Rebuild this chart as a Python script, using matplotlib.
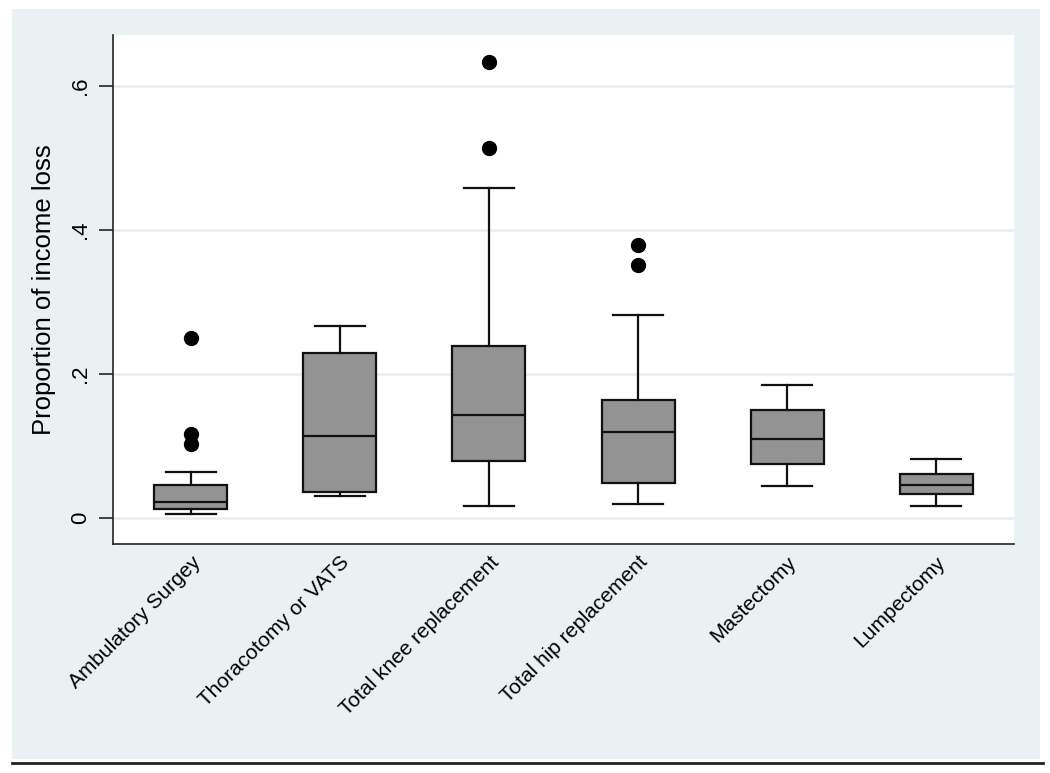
import matplotlib
matplotlib.use('Agg')
import matplotlib.pyplot as plt
from matplotlib.patches import Rectangle
from matplotlib.lines import Line2D

plt.rcParams['font.family'] = ['Liberation Sans', 'DejaVu Sans']

# procedures and box summary values
procedures = ['Ambulatory Surgey', 'Thoracotomy or VATS', 'Total knee replacement',
              'Total hip replacement', 'Mastectomy', 'Lumpectomy']
whislo = [0.0056, 0.030, 0.016, 0.019, 0.044, 0.016]
q1 = [0.0125, 0.035, 0.079, 0.048, 0.075, 0.033]
med = [0.022, 0.113, 0.143, 0.119, 0.110, 0.045]
q3 = [0.046, 0.229, 0.238, 0.164, 0.149, 0.061]
whishi = [0.063, 0.266, 0.458, 0.282, 0.184, 0.082]
outliers = [[0.250, 0.116, 0.103], [], [0.634, 0.514], [0.379, 0.351], [], []]

yticks = [0, 0.2, 0.4, 0.6]
ytick_labels = ['0', '.2', '.4', '.6']

bg = '#eaf1f3'
fig = plt.figure(figsize=(10.5, 7.73), dpi=100)
fig.patch.set_facecolor('white')

# stata style light background panel and the rule underneath
fig.patches.append(Rectangle((12/1050, 14/773), 1028/1050, 750/773,
                             transform=fig.transFigure, facecolor=bg,
                             edgecolor='none', zorder=-5))
fig.lines.append(Line2D([12/1050, 1043/1050], [10.3/773, 10.3/773],
                        transform=fig.transFigure, color='#222222', lw=2,
                        zorder=-4))

ax = fig.add_axes([113/1050, 229/773, 901/1050, 509/773])
ax.set_zorder(5)
ax.set_facecolor('white')

stats = []
for i in range(len(procedures)):
    stats.append({'whislo': whislo[i], 'q1': q1[i], 'med': med[i], 'q3': q3[i],
                  'whishi': whishi[i], 'fliers': outliers[i], 'label': procedures[i]})

positions = list(range(1, len(procedures) + 1))
ax.bxp(stats, positions=positions, widths=0.49, patch_artist=True,
       showfliers=True, capwidths=0.33,
       boxprops=dict(facecolor='#939393', edgecolor='#111111', linewidth=1.6),
       medianprops=dict(color='#111111', linewidth=1.6),
       whiskerprops=dict(color='#111111', linewidth=1.6),
       capprops=dict(color='#111111', linewidth=1.6),
       flierprops=dict(marker='o', markerfacecolor='black', markeredgecolor='black',
                       markersize=10))

ax.set_xlim(0.477, 6.523)
ax.set_ylim(-0.0366, 0.671)

ax.set_yticks(yticks)
ax.set_yticklabels(ytick_labels, rotation=90, va='center', fontsize=16)
ax.yaxis.grid(True, color='#e6eef1', linewidth=1.8)
ax.set_axisbelow(True)
ax.tick_params(axis='y', length=10, width=1.2, pad=6, color='#222222')

ax.set_xticks(positions)
ax.set_xticklabels(procedures, rotation=45, ha='right', va='top',
                   rotation_mode='anchor', fontsize=15)
ax.tick_params(axis='x', length=0, pad=6)

for side in ['top', 'right']:
    ax.spines[side].set_visible(False)
for side in ['left', 'bottom']:
    ax.spines[side].set_color('#222222')
    ax.spines[side].set_linewidth(1.2)

ax.set_ylabel('Proportion of income loss', fontsize=18.5, labelpad=10)

fig.savefig('out.png', dpi=100, facecolor=fig.get_facecolor())
